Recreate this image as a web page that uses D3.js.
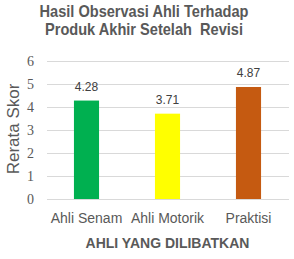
<html>
<head>
<script src="https://d3js.org/d3.v7.min.js"></script>
<style>
body {margin:0; background:#fff;}
text {font-family: "Liberation Sans", Arial, sans-serif;}
</style>
</head>
<body onload="init()">
<svg width="294" height="259"></svg>
<script>
var categories = ["Ahli Senam", "Ahli Motorik", "Praktisi"];
var scores = [4.28, 3.71, 4.87];
var barColors = ["#00B050", "#FFFF00", "#C55A11"];
var yTicks = [0, 1, 2, 3, 4, 5, 6];
var titleLines = ["Hasil Observasi Ahli Terhadap", "Produk Akhir Setelah  Revisi"];
var titleWidths = [209, 198];

function init() {
    var margin = {top: 61, left: 46};
    var width = 243;
    var height = 138;
    var svg = d3.select("svg");

    var x = d3.scaleBand().domain(categories).range([0, width]).paddingInner(0.69).paddingOuter(0.345);
    var y = d3.scaleLinear().domain([0, 6]).range([height, 0]);

    var g = svg.append("g").attr("transform", "translate(" + margin.left + "," + margin.top + ")");

    // gridlines
    g.selectAll("line.grid").data(yTicks).enter().append("line")
        .attr("x1", 1).attr("x2", width)
        .attr("y1", function(d){return y(d) + 0.5}).attr("y2", function(d){return y(d) + 0.5})
        .attr("stroke", "#d9d9d9").attr("stroke-width", 1);

    // y tick labels
    g.selectAll("text.ytick").data(yTicks).enter().append("text")
        .attr("x", -12).attr("y", function(d){return y(d)})
        .attr("dy", "0.35em").attr("text-anchor", "end")
        .style("font-family", "'Liberation Serif', 'Times New Roman', serif")
        .style("font-size", "14px").attr("fill", "#595959")
        .text(function(d){return d});

    // bars
    g.selectAll("rect").data(scores).enter().append("rect")
        .attr("x", function(d, i){return x(categories[i])})
        .attr("width", x.bandwidth())
        .attr("y", function(d){return y(d)})
        .attr("height", function(d){return height - y(d)})
        .attr("fill", function(d, i){return barColors[i]});

    // data labels
    g.selectAll("text.val").data(scores).enter().append("text")
        .attr("x", function(d, i){return x(categories[i]) + x.bandwidth() / 2})
        .attr("y", function(d){return y(d) - 10})
        .attr("text-anchor", "middle")
        .style("font-size", "12px").attr("fill", "#404040")
        .text(function(d){return d.toFixed(2)});

    // category labels
    g.selectAll("text.cat").data(categories).enter().append("text")
        .attr("x", function(d){return x(d) + x.bandwidth() / 2})
        .attr("y", height + 24)
        .attr("text-anchor", "middle")
        .style("font-size", "14px").attr("fill", "#595959")
        .text(function(d){return d});

    // x axis title
    g.append("text").attr("x", width / 2).attr("y", height + 49)
        .attr("text-anchor", "middle")
        .style("font-size", "14px").style("font-weight", "bold").attr("fill", "#595959")
        .text("AHLI YANG DILIBATKAN");

    // y axis title
    svg.append("text").attr("transform", "translate(19," + (margin.top + 68) + ") rotate(-90)")
        .attr("text-anchor", "middle")
        .style("font-size", "17px").attr("fill", "#595959")
        .text("Rerata Skor");

    // title
    svg.selectAll("text.title").data(titleLines).enter().append("text")
        .attr("x", 144).attr("y", function(d, i){return 17 + i * 18})
        .attr("text-anchor", "middle")
        .attr("textLength", function(d, i){return titleWidths[i]})
        .attr("lengthAdjust", "spacingAndGlyphs")
        .style("white-space", "pre")
        .style("font-size", "17px").style("font-weight", "bold").attr("fill", "#595959")
        .text(function(d){return d});
}
</script>
</body>
</html>
